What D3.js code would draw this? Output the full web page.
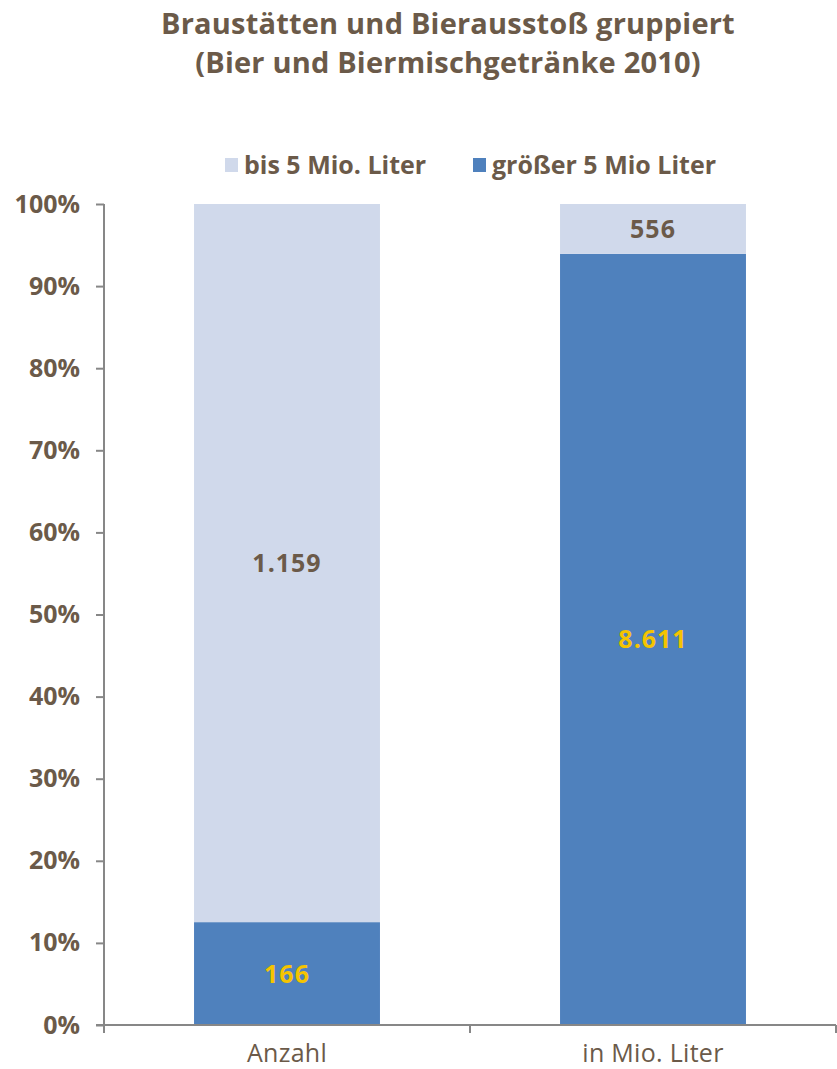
<!DOCTYPE html>
<html>
<head>
<meta charset="utf-8">
<script src="https://cdnjs.cloudflare.com/ajax/libs/d3/7.8.5/d3.min.js"></script>
<style>
	body { margin: 0; background: #fff; }
	text { font-family: "Open Sans", "DejaVu Sans", sans-serif; }
</style>
</head>
<body>
<div id="chart"></div>
<script>

var categories = [ "Anzahl", "in Mio. Liter" ];
var seriesNames = [ "bis 5 Mio. Liter", "größer 5 Mio Liter" ];
var small = [ 1159, 556 ];   // bis 5 Mio. Liter
var large = [ 166, 8611 ];   // größer 5 Mio Liter
var smallLabels = [ "1.159", "556" ];
var largeLabels = [ "166", "8.611" ];
var yTicks = [ 0, 0.1, 0.2, 0.3, 0.4, 0.5, 0.6, 0.7, 0.8, 0.9, 1 ];

var W = 837, H = 1069;
var margin = { top : 204, left : 104, right : 1, bottom : 44 };

var brown = "#6b5a49", light = "#d0d9eb", dark = "#4f81bd", gold = "#f5c400", axisGrey = "#878787";

var svg = d3.select("#chart").append("svg").attr("width", W).attr("height", H);

// title
svg.append("text").attr("x", 448).attr("y", 34).attr("text-anchor", "middle")
		.attr("font-size", 29).attr("font-weight", "bold").attr("fill", brown)
		.attr("letter-spacing", 0.2)
		.text("Braustätten und Bierausstoß gruppiert");
svg.append("text").attr("x", 448).attr("y", 73).attr("text-anchor", "middle")
		.attr("font-size", 29).attr("font-weight", "bold").attr("fill", brown)
		.attr("letter-spacing", 0.2)
		.text("(Bier und Biermischgetränke 2010)");

var x = d3.scaleBand().domain(categories).range([ margin.left, W - margin.right ])
		.paddingInner(0.492).paddingOuter(0.246);
var y = d3.scaleLinear().domain([ 0, 1 ]).range([ H - margin.bottom, margin.top ]);

// build stacked shares
var rows = categories.map(function(c, i) {
	var total = small[i] + large[i];
	return {
		cat : c,
		large : large[i] / total,
		small : small[i] / total,
		largeLabel : largeLabels[i],
		smallLabel : smallLabels[i]
	};
});

var stack = d3.stack().keys([ "large", "small" ])(rows);
var fills = { large : dark, small : light };

var g = svg.append("g");
stack.forEach(function(layer) {
	g.selectAll(".bar-" + layer.key).data(layer).enter().append("rect")
			.attr("x", function(d) { return x(d.data.cat); })
			.attr("width", x.bandwidth())
			.attr("y", function(d) { return y(d[1]); })
			.attr("height", function(d) { return y(d[0]) - y(d[1]); })
			.attr("fill", fills[layer.key]);
});

// value labels
stack.forEach(function(layer) {
	g.selectAll(".lab-" + layer.key).data(layer).enter().append("text")
			.attr("x", function(d) { return x(d.data.cat) + x.bandwidth() / 2; })
			.attr("y", function(d) { return (y(d[0]) + y(d[1])) / 2 + 9; })
			.attr("text-anchor", "middle").attr("font-size", 25)
			.attr("font-weight", "bold").attr("letter-spacing", 1)
			.attr("fill", layer.key === "large" ? gold : brown)
			.text(function(d) {
				return layer.key === "large" ? d.data.largeLabel : d.data.smallLabel;
			});
});

// y axis
var yAxis = svg.append("g").attr("transform", "translate(" + margin.left + ",0)")
		.call(d3.axisLeft(y).tickValues(yTicks).tickSize(8).tickPadding(16)
				.tickFormat(d3.format(".0%")));
yAxis.select(".domain").attr("stroke", axisGrey).attr("stroke-width", 2)
		.attr("d", "M0," + y(1) + "V" + y(0));
yAxis.selectAll(".tick line").attr("stroke", axisGrey).attr("stroke-width", 2);
yAxis.selectAll(".tick text").attr("fill", brown).attr("font-size", 25)
		.attr("font-weight", "bold").attr("font-family", "'Open Sans', sans-serif");

// x axis with boundary ticks
var xg = svg.append("g").attr("transform", "translate(0," + y(0) + ")");
xg.append("line").attr("x1", margin.left - 8).attr("x2", W - margin.right)
		.attr("stroke", axisGrey).attr("stroke-width", 2);
var bounds = [ margin.left ].concat(categories.map(function(c) {
	return x(c) - x.step() * x.paddingInner() / 2 + x.step();
}));
xg.selectAll(".xtick").data(bounds).enter().append("line")
		.attr("x1", function(d) { return d; }).attr("x2", function(d) { return d; })
		.attr("y1", 0).attr("y2", 8).attr("stroke", axisGrey).attr("stroke-width", 2);
xg.selectAll(".xlab").data(categories).enter().append("text")
		.attr("x", function(d) { return x(d) + x.bandwidth() / 2; })
		.attr("y", 37).attr("text-anchor", "middle").attr("font-size", 25)
		.attr("letter-spacing", 0.3)
		.attr("fill", brown).text(function(d) { return d; });

// legend
var legend = [ { name : seriesNames[0], color : light, x : 225 },
		{ name : seriesNames[1], color : dark, x : 473 } ];
var lg = svg.selectAll(".legend").data(legend).enter().append("g")
		.attr("transform", function(d) { return "translate(" + d.x + ",158)"; });
lg.append("rect").attr("width", 13).attr("height", 14).attr("fill", function(d) { return d.color; });
lg.append("text").attr("x", 19).attr("y", 16).attr("font-size", 25)
		.attr("font-weight", "bold").attr("fill", brown)
		.text(function(d) { return d.name; });

</script>
</body>
</html>
